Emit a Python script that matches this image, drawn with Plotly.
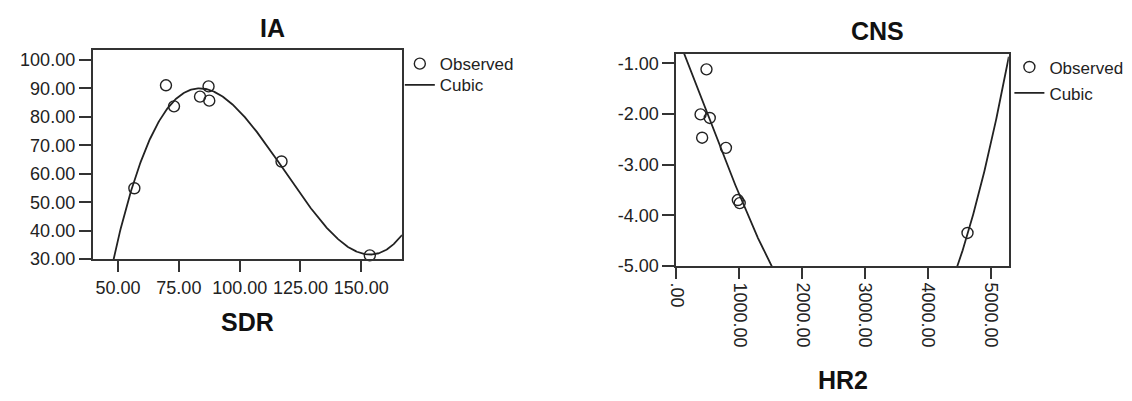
import numpy as np
import plotly.graph_objects as go

W, H = 1132, 401

# ---- data ----
sdr = [56.7, 69.7, 73.0, 83.7, 87.2, 87.5, 117.2, 153.5]
ia = [54.9, 91.1, 83.7, 87.1, 90.7, 85.7, 64.3, 31.3]

hr2 = [477, 383, 529, 408, 786, 975, 1005, 4624]
cns = [-1.12, -2.01, -2.08, -2.47, -2.67, -3.70, -3.76, -4.35]

# points the drawn CNS cubic curve passes through
cns_curve_x = [120, 1500, 4466, 5280]
cns_curve_y = [-0.81, -5.0, -5.0, -0.87]

sdr_ticks = [50, 75, 100, 125, 150]
sdr_ticktext = ["50.00", "75.00", "100.00", "125.00", "150.00"]
ia_ticks = [30, 40, 50, 60, 70, 80, 90, 100]
ia_ticktext = ["30.00", "40.00", "50.00", "60.00", "70.00", "80.00", "90.00", "100.00"]
hr2_ticks = [0, 1000, 2000, 3000, 4000, 5000]
hr2_ticktext = [".00", "1000.00", "2000.00", "3000.00", "4000.00", "5000.00"]
cns_ticks = [-5, -4, -3, -2, -1]
cns_ticktext = ["-5.00", "-4.00", "-3.00", "-2.00", "-1.00"]

sdr_range = [39.6, 166.7]
ia_range = [30.0, 103.6]
hr2_range = [0, 5280]
cns_range = [-5.0, -0.81]

# cubic curves
c1 = np.polyfit(sdr, ia, 3)
x1 = np.linspace(sdr_range[0], sdr_range[1], 400)
y1 = np.polyval(c1, x1)
c2 = np.polyfit(cns_curve_x, cns_curve_y, 3)
x2 = np.linspace(hr2_range[0], hr2_range[1], 800)
y2 = np.polyval(c2, x2)

INK = "#222222"
FONT = "Liberation Sans, Arial, sans-serif"

fig = go.Figure()
mk = dict(symbol="circle-open", size=11, color=INK, line=dict(width=1.4))
fig.add_trace(go.Scatter(x=sdr, y=ia, mode="markers", name="Observed", marker=mk,
                         cliponaxis=False, xaxis="x", yaxis="y", legend="legend"))
fig.add_trace(go.Scatter(x=x1, y=y1, mode="lines", name="Cubic",
                         line=dict(color=INK, width=1.8), xaxis="x", yaxis="y", legend="legend2"))
fig.add_trace(go.Scatter(x=hr2, y=cns, mode="markers", name="Observed", marker=mk,
                         cliponaxis=False, xaxis="x2", yaxis="y2", legend="legend3"))
fig.add_trace(go.Scatter(x=x2, y=y2, mode="lines", name="Cubic",
                         line=dict(color=INK, width=1.8), xaxis="x2", yaxis="y2", legend="legend4"))


def px_x(p):
    return p / W


def px_y(p):
    return 1 - p / H


axis_common = dict(showline=True, mirror=True, linecolor="#333333", linewidth=2,
                   ticks="outside", tickwidth=2, tickcolor="#333333",
                   showgrid=False, zeroline=False, tickmode="array",
                   tickfont=dict(family=FONT, size=18, color="#222222"))


def leg(xp, yp):
    return dict(x=px_x(xp), y=px_y(yp), xanchor="left", yanchor="top",
                font=dict(family=FONT, size=17, color="#222222"),
                bgcolor="rgba(0,0,0,0)", borderwidth=0)


fig.update_layout(
    width=W, height=H,
    margin=dict(l=0, r=0, t=0, b=0),
    paper_bgcolor="white", plot_bgcolor="white",
    font=dict(family=FONT, color="#111111"),
    xaxis=dict(domain=[px_x(83.5), px_x(395.4)], range=sdr_range, anchor="y", ticklen=11,
               tickvals=sdr_ticks, ticktext=sdr_ticktext, **axis_common),
    yaxis=dict(domain=[px_y(265.7), px_y(51)], range=ia_range, anchor="x", ticklen=12,
               tickvals=ia_ticks, ticktext=ia_ticktext, **axis_common),
    xaxis2=dict(domain=[px_x(672.4), px_x(1007.7)], range=hr2_range, anchor="y2", ticklen=11,
                tickvals=hr2_ticks, ticktext=hr2_ticktext, tickangle=90, **axis_common),
    yaxis2=dict(domain=[px_y(272.7), px_y(55)], range=cns_range, anchor="x2", ticklen=12,
                tickvals=cns_ticks, ticktext=cns_ticktext, **axis_common),
    legend=leg(393.3, 47.3),
    legend2=leg(393.3, 69.0),
    legend3=leg(1008.3, 50.7),
    legend4=leg(1008.3, 77.3),
    showlegend=True,
)

tfont = dict(family=FONT, size=25, color="#111111")
ann = [
    dict(text="<b>IA</b>", x=px_x(265), y=px_y(28.7)),
    dict(text="<b>CNS</b>", x=px_x(875), y=px_y(31.7)),
    dict(text="<b>SDR</b>", x=px_x(240), y=px_y(330.5)),
    dict(text="<b>HR2</b>", x=px_x(840), y=px_y(390)),
]
for a in ann:
    a.update(xref="paper", yref="paper", showarrow=False, xanchor="center",
             yanchor="middle", font=tfont)
fig.update_layout(annotations=ann)

fig.write_html("out.html", config={"displayModeBar": False},
               post_script="document.body.style.margin='0px';")
